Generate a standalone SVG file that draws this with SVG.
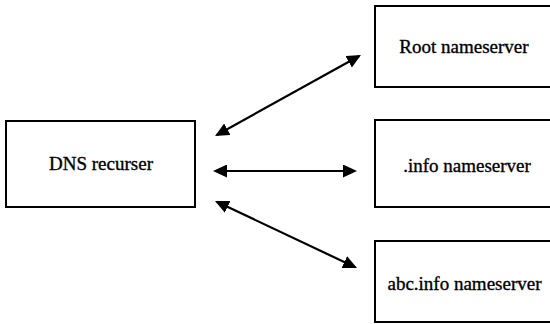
<svg xmlns="http://www.w3.org/2000/svg" width="550" height="324" viewBox="0 0 550 324">
  <style>
    .box { fill: #ffffff; stroke: #000000; stroke-width: 2; }
    .lbl { font-family: "Liberation Serif", "Times New Roman", Times, Tinos, "Nimbus Roman", "Nimbus Roman No9 L", "Noto Serif", "DejaVu Serif", FreeSerif, "Noto Serif CJK SC", serif; font-size: 19px; fill: #000000; text-anchor: middle; stroke: #000000; stroke-width: 0.35; }
    .conn { stroke: #000000; stroke-width: 2.2; fill: none; marker-start: url(#ah); marker-end: url(#ah); }
  </style>
  <defs>
    <marker id="ah" viewBox="0 0 14 13" markerWidth="14" markerHeight="13" refX="12" refY="6.5" orient="auto-start-reverse" markerUnits="userSpaceOnUse">
      <path d="M0,0 L14,6.5 L0,13 z" fill="#000000"/>
    </marker>
  </defs>
  <rect width="550" height="324" fill="#ffffff"/>
  <g id="dns-recurser">
    <rect class="box" x="6" y="121" width="189" height="86"/>
    <text class="lbl" x="101" y="170">DNS recurser</text>
  </g>
  <g id="root-nameserver">
    <rect class="box" x="375" y="6" width="180" height="81"/>
    <text class="lbl" x="464" y="53">Root nameserver</text>
  </g>
  <g id="info-nameserver">
    <rect class="box" x="375" y="120" width="180" height="87"/>
    <text class="lbl" x="467" y="172">.info nameserver</text>
  </g>
  <g id="abc-info-nameserver">
    <rect class="box" x="375" y="241" width="180" height="81"/>
    <text class="lbl" x="464.5" y="290">abc.info nameserver</text>
  </g>
  <g id="connectors">
    <line class="conn" x1="216.8" y1="135" x2="359.2" y2="56"/>
    <line class="conn" x1="215" y1="171" x2="355" y2="171"/>
    <line class="conn" x1="216.8" y1="201.8" x2="355.2" y2="267.2"/>
  </g>
</svg>
